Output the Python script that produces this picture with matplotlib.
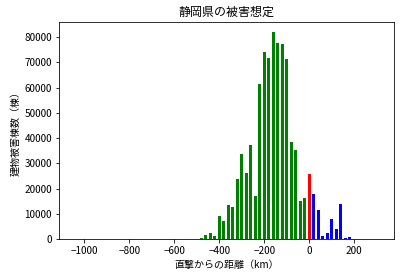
import matplotlib
matplotlib.use('Agg')
import matplotlib.pyplot as plt

plt.rcParams['font.family'] = ['Noto Sans CJK JP', 'DejaVu Sans']

# distance from direct hit (km) and damaged buildings
dist_west = [-480, -460, -440, -420, -400, -380, -360, -340, -320, -300, -280, -260,
             -240, -220, -200, -180, -160, -140, -120, -100, -80, -60, -40, -20]
damage_west = [500, 1700, 2500, 1300, 9200, 7300, 13600, 12800, 23900, 33800, 26300, 37400,
               17200, 61500, 74200, 71800, 82100, 77700, 77400, 71400, 38500, 35400, 15200, 16400]
dist_center = [0]
damage_center = [25900]
dist_east = [20, 40, 60, 80, 100, 120, 140, 160, 180]
damage_east = [18000, 11600, 1300, 2500, 8000, 4100, 14000, 500, 900]

fig = plt.figure(figsize=(400 / 72, 276 / 72), dpi=72)
ax = fig.add_subplot(111)
fig.subplots_adjust(left=0.1475, right=0.984, top=0.920, bottom=0.134)

ax.bar(dist_west, damage_west, width=15, color='green')
ax.bar(dist_center, damage_center, width=15, color='red')
ax.bar(dist_east, damage_east, width=15, color='blue')

ax.set_xlim(-1112, 375)
ax.set_ylim(0, 86000)
ax.set_title('静岡県の被害想定')
ax.set_xlabel('直撃からの距離（km）')
ax.set_ylabel('建物被害棟数（棟）')

fig.savefig('out.png', dpi=72)
